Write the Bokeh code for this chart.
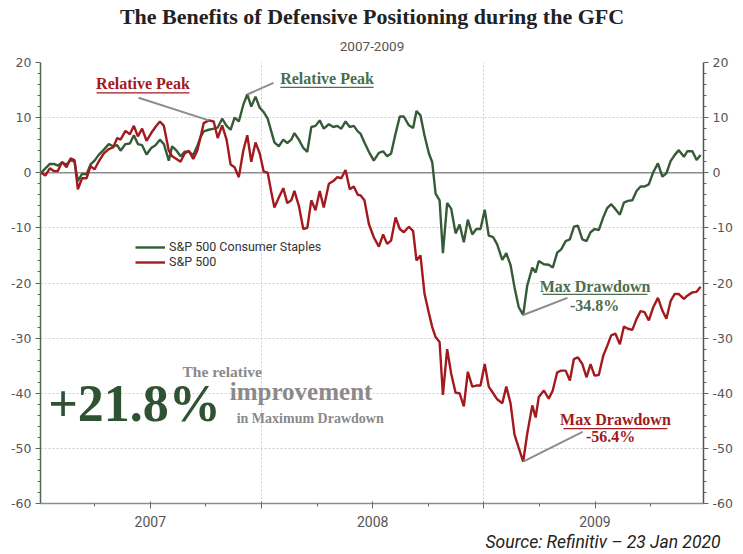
import numpy as np
from bokeh.plotting import figure
from bokeh.models import (Range1d, LinearAxis, FixedTicker,
                          Span, Label, Title, Legend, LegendItem, ColumnDataSource)
from bokeh.embed import file_html
from bokeh.resources import INLINE

# ---------------- data (decimal years, % change) ----------------
dates = [
    2007.009, 2007.028, 2007.048, 2007.066, 2007.084, 2007.103, 2007.123, 2007.141, 2007.159, 2007.174,
    2007.193, 2007.213, 2007.231, 2007.249, 2007.267, 2007.291, 2007.313, 2007.333, 2007.351, 2007.366,
    2007.388, 2007.408, 2007.426, 2007.444, 2007.463, 2007.483, 2007.504, 2007.523, 2007.543, 2007.561,
    2007.583, 2007.598, 2007.618, 2007.636, 2007.654, 2007.673, 2007.693, 2007.711, 2007.726, 2007.740,
    2007.763, 2007.785, 2007.803, 2007.823, 2007.843, 2007.861, 2007.879, 2007.898, 2007.918, 2007.936,
    2007.954, 2007.973, 2007.992, 2008.010, 2008.028, 2008.044, 2008.058, 2008.078, 2008.098, 2008.116,
    2008.134, 2008.148, 2008.168, 2008.188, 2008.206, 2008.224, 2008.243, 2008.262, 2008.280, 2008.303,
    2008.323, 2008.341, 2008.359, 2008.378, 2008.397, 2008.415, 2008.433,
    2008.445, 2008.463, 2008.483, 2008.505, 2008.528, 2008.547, 2008.565, 2008.583, 2008.603, 2008.622,
    2008.640, 2008.663, 2008.682, 2008.697, 2008.715, 2008.733, 2008.753, 2008.768, 2008.783, 2008.801,
    2008.816, 2008.835, 2008.853, 2008.873, 2008.891, 2008.910, 2008.928, 2008.948, 2008.966, 2008.985,
    2009.004, 2009.022, 2009.042, 2009.060, 2009.083, 2009.101, 2009.120, 2009.138, 2009.157, 2009.177,
    2009.195, 2009.218, 2009.233, 2009.247, 2009.270, 2009.292, 2009.310, 2009.330, 2009.348, 2009.368,
    2009.387, 2009.405, 2009.423, 2009.443, 2009.462, 2009.480, 2009.498, 2009.517, 2009.537, 2009.555,
    2009.573, 2009.592, 2009.612, 2009.630, 2009.648, 2009.668, 2009.687, 2009.705, 2009.723, 2009.742,
    2009.762, 2009.783, 2009.803, 2009.821, 2009.840, 2009.858, 2009.877, 2009.900, 2009.915, 2009.938,
    2009.957, 2009.975,
]

staples = [
    0.0, 0.8, 1.6, 1.6, 1.3, 1.8, 1.5, 2.3, 2.0, -1.5,
    -0.2, -0.3, 1.5, 2.2, 3.2, 4.2, 5.2, 4.8, 5.0, 4.0,
    5.2, 5.3, 6.8, 5.2, 5.0, 3.3, 4.5, 5.0, 6.0, 5.2,
    2.2, 4.8, 4.0, 3.0, 3.8, 3.8, 3.2, 4.8, 6.5, 7.5,
    7.8, 8.0, 8.2, 9.8, 8.5, 7.8, 10.0, 9.3, 12.3, 14.2,
    12.0, 13.8, 11.8, 11.0, 9.8, 7.5, 5.5, 4.8, 6.0, 5.4,
    6.0, 7.2, 6.0, 4.5, 3.8, 8.3, 8.5, 9.5, 8.0, 8.8,
    8.3, 8.5, 8.0, 9.3, 8.3, 8.5, 7.5,
    7.1, 5.5, 3.8, 2.2, 3.6, 3.9, 3.0, 3.5, 7.1, 10.2,
    10.2, 8.6, 8.1, 11.2, 10.4, 6.8, 3.5, 1.9, -3.8, -5.0,
    -14.6, -5.5, -6.5, -11.0, -9.4, -12.6, -8.5, -11.2, -10.2, -10.2,
    -6.7, -11.4, -11.7, -13.0, -15.8, -14.6, -16.7, -20.8, -24.4, -25.8,
    -20.5, -17.2, -18.1, -16.0, -16.6, -16.7, -17.2, -14.5, -13.9, -12.4,
    -12.1, -9.8, -9.6, -12.1, -12.4, -10.8, -10.2, -10.4, -8.1, -6.4,
    -5.7, -6.6, -7.6, -5.4, -5.1, -5.0, -3.3, -2.5, -2.5, -2.1,
    0.1, 1.7, -0.7, -0.1, 2.1, 3.2, 4.1, 2.9, 3.9, 3.9,
    2.3, 3.2,
]

sp500 = [
    0.0, -0.5, 0.8, 0.3, 0.3, 2.0, 1.0, 2.6, 2.3, -3.0,
    -1.0, -1.0, 1.2, 0.6, 2.0, 3.5, 4.3, 4.6, 6.3, 6.0,
    7.6, 7.0, 8.5, 6.6, 8.0, 5.8, 7.2, 8.3, 9.3, 8.5,
    4.0, 3.0, 2.5, 2.0, 3.5, 4.0, 2.5, 4.0, 6.5, 9.0,
    9.5, 9.3, 6.3, 8.6, 6.0, 1.5, 1.0, -0.8, 4.0, 6.8,
    2.0, 5.5, 3.5, 0.2, 0.0, -3.5, -6.3, -4.5, -2.8, -5.5,
    -5.0, -3.3, -6.0, -10.2, -10.0, -5.0, -6.8, -3.3, -6.3, -2.0,
    -1.5, -0.8, -1.0, 0.5, -3.0, -2.5, -4.0,
    -4.1, -5.0, -9.3, -11.7, -13.4, -11.2, -12.9, -12.3, -8.1, -10.2,
    -10.8, -9.8, -10.6, -15.9, -15.0, -21.9, -25.5, -28.0, -29.8, -30.7,
    -40.3, -32.0, -36.4, -39.9, -40.0, -42.4, -36.1, -38.8, -38.6, -38.6,
    -34.7, -38.8, -40.0, -41.1, -41.8, -38.8, -41.8, -47.5, -49.9, -52.4,
    -47.4, -42.2, -44.4, -40.7, -39.5, -41.0, -39.5, -36.2, -35.9, -35.9,
    -37.7, -33.8, -33.5, -34.7, -37.1, -34.7, -36.8, -36.7, -33.2, -31.4,
    -29.5, -29.2, -31.1, -27.9, -28.3, -28.5, -26.5, -25.1, -25.3, -26.8,
    -24.4, -22.7, -25.0, -26.5, -23.3, -22.0, -22.0, -22.9, -22.3, -21.7,
    -21.6, -20.7,
]

series_names = ["S&P 500 Consumer Staples", "S&P 500"]
year_labels = ["2007", "2008", "2009"]
y_ticks = [-60, -50, -40, -30, -20, -10, 0, 10, 20]

GREEN = "#355b37"
GREEN_TXT = "#4b6e4b"
RED = "#a3191d"
GREY_TXT = "#8a8a8a"
LEADER = "#8c8c8c"

# ---------------- figure ----------------
p = figure(width=743, height=554,
           x_range=Range1d(2007.006, 2009.988), y_range=Range1d(-60, 20),
           output_backend="svg", toolbar_location=None,
           min_border_left=40, min_border_right=40, min_border_top=62, min_border_bottom=51)
p.outline_line_color = None
p.background_fill_color = "white"
p.border_fill_color = "white"

# titles (later-added "above" titles are placed further out)
p.add_layout(Title(text="2007-2009", align="center", text_font="Roboto",
                   text_font_size="13.5px", text_font_style="normal", text_color="#555555",
                   standoff=23), "above")
p.add_layout(Title(text="The Benefits of Defensive Positioning during the GFC", align="center",
                   text_font="Liberation Serif", text_font_size="22px", text_font_style="bold",
                   text_color="#222222", standoff=0), "above")
p.add_layout(Title(text="Source: Refinitiv \u2013 23 Jan 2020", align="right",
                   text_font="Roboto", text_font_size="17.5px",
                   text_font_style="italic", text_color="#222222", offset=-17, standoff=1), "below")

# axes
def style_y(ax, line_color):
    ax.ticker = FixedTicker(ticks=y_ticks,
                            minor_ticks=[v for v in range(-60, 21, 2) if v % 10 != 0])
    ax.major_label_overrides = {t: str(t) for t in y_ticks}
    ax.axis_line_color = line_color
    ax.axis_line_width = 1.5
    ax.major_tick_line_color = "#666666"
    ax.minor_tick_line_color = "#666666"
    ax.major_tick_out = 5
    ax.major_tick_in = 0
    ax.minor_tick_out = 3
    ax.minor_tick_in = 0
    ax.major_label_text_color = "#555555"
    ax.major_label_text_font = "DejaVu Sans"
    ax.major_label_text_font_size = "12.5px"
    ax.major_label_standoff = 4

style_y(p.yaxis[0], "#4a6b4a")
right = LinearAxis()
style_y(right, "#555555")
p.add_layout(right, "right")

year_bounds = [2008, 2009]
mid_years = [2007.5, 2008.5, 2009.5]
quarters = [2007.25, 2007.5, 2007.75, 2008.25, 2008.5, 2008.75, 2009.25, 2009.5, 2009.75]
xa = p.xaxis[0]
xa.ticker = FixedTicker(ticks=year_bounds + mid_years, minor_ticks=quarters)
overrides = {float(b): "" for b in year_bounds}
overrides.update({m: lab for m, lab in zip(mid_years, year_labels)})
xa.major_label_overrides = overrides
xa.axis_line_color = "#8c8c8c"
xa.axis_line_width = 1.5
xa.major_tick_line_color = "#666666"
xa.minor_tick_line_color = "#666666"
xa.major_tick_out = 5
xa.major_tick_in = 2
xa.minor_tick_out = 3
xa.minor_tick_in = 0
xa.major_label_text_color = "#555555"
xa.major_label_text_font = "Roboto"
xa.major_label_text_font_size = "14px"
xa.major_label_standoff = 7

# grid
p.xgrid.ticker = FixedTicker(ticks=year_bounds)
p.xgrid.grid_line_color = "#cfcfcf"
p.xgrid.grid_line_dash = "2 2"
p.ygrid.ticker = FixedTicker(ticks=y_ticks)
p.ygrid.grid_line_color = "#cfcfcf"
p.ygrid.grid_line_dash = "2 2"

p.add_layout(Span(location=0, dimension="width", line_color="#8c8c8c", line_width=1.4,
                  level="underlay"))

# series
src = ColumnDataSource(dict(x=dates, staples=staples, sp500=sp500))
r_g = p.line("x", "staples", source=src, line_color=GREEN, line_width=2.4)
r_r = p.line("x", "sp500", source=src, line_color=RED, line_width=2.4)

legend = Legend(items=[LegendItem(label=series_names[0], renderers=[r_g]),
                       LegendItem(label=series_names[1], renderers=[r_r])],
                location=(95, 234), orientation="vertical")
legend.label_text_font = "Roboto"
legend.label_text_font_size = "12.5px"
legend.label_text_color = "#333333"
legend.glyph_width = 30
legend.glyph_height = 10
legend.label_height = 12
legend.label_standoff = 4
legend.spacing = 0
legend.padding = 0
legend.margin = 0
legend.background_fill_alpha = 0
legend.border_line_color = None
p.add_layout(legend)

# ---------------- annotations ----------------
g = np.array(staples)
r = np.array(sp500)
x = np.array(dates)
ig_max, ir_max = int(np.argmax(g)), int(np.argmax(r))
ig_min, ir_min = int(np.argmin(g)), int(np.argmin(r))

# leader lines: from data point to label anchor
lead_x0 = [x[ir_max], x[ig_max], x[ig_min], x[ir_min]]
lead_y0 = [r[ir_max], g[ig_max], g[ig_min], r[ir_min]]
lead_x1 = [2007.447, 2008.054, 2009.376, 2009.444]
lead_y1 = [13.6, 16.3, -22.7, -47.0]
p.segment(x0=lead_x0, y0=lead_y0, x1=lead_x1, y1=lead_y1, line_color=LEADER, line_width=2)

def ann(xv, yv, text, color, size, style="bold", font="Liberation Serif", align="center"):
    p.add_layout(Label(x=xv, y=yv, text=text, text_color=color, text_font=font,
                       text_font_size=size, text_font_style=style, text_align=align,
                       text_baseline="middle"))

ann(2007.467, 16.1, "Relative Peak", RED, "16px")
ann(2008.295, 17.05, "Relative Peak", GREEN_TXT, "16px")
ann(2009.500, -20.7, "Max Drawdown", GREEN_TXT, "16px")
ann(2009.498, -24.1, "-34.8%", GREEN_TXT, "16px")
ann(2009.592, -44.8, "Max Drawdown", RED, "16px")
ann(2009.570, -47.9, "-56.4%", RED, "16px")

# underlines
p.segment(x0=[2007.258, 2008.085, 2009.264, 2009.358], y0=[14.5, 15.5, -22.05, -46.4],
          x1=[2007.676, 2008.504, 2009.736, 2009.826], y1=[14.5, 15.5, -22.05, -46.4],
          line_color=[RED, GREEN_TXT, GREEN_TXT, RED], line_width=1.3)

ann(2007.429, -41.9, "+21.8%", "#2f5233", "52px")
ann(2007.823, -36.1, "The relative", GREY_TXT, "15.5px")
ann(2008.178, -39.7, "improvement", GREY_TXT, "25px")
ann(2008.219, -44.5, "in Maximum Drawdown", GREY_TXT, "14px")

open("out.html", "w").write(file_html(p, INLINE))
